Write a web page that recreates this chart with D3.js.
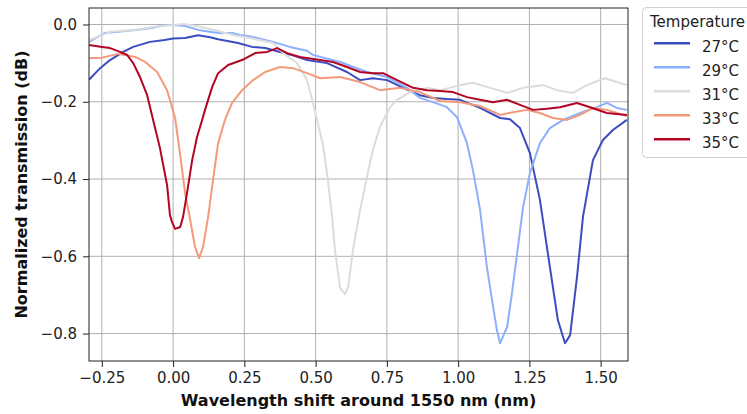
<!DOCTYPE html>
<html><head><meta charset="utf-8">
<script src="https://cdn.jsdelivr.net/npm/d3@7"></script>
<style>body{margin:0;background:#fff} svg{display:block} text{font-family:"DejaVu Sans",sans-serif}</style>
</head><body><svg id="c" width="747" height="414"></svg>
<script>
// ---- data ----
const temps = ["27°C","29°C","31°C","33°C","35°C"];
const colors = ["#3b4cc0","#8db0fe","#dddcdc","#f49a7b","#b40426"];
const xTicks = [-0.25,0,0.25,0.5,0.75,1.0,1.25,1.5];
const yTicks = [0,-0.2,-0.4,-0.6,-0.8];

const wl27 = [-0.295,-0.256,-0.221,-0.175,-0.140,-0.081,-0.030,0,0.042,0.088,0.130,0.158,0.228,0.277,0.323,0.375,0.420,0.470,0.540,0.610,0.656,0.701,0.751,0.807,0.866,0.912,0.961,1.007,1.077,1.147,1.182,1.217,1.252,1.287,1.322,1.350,1.375,1.393,1.417,1.438,1.473,1.508,1.543,1.592];
const tr27 = [-0.143,-0.113,-0.092,-0.071,-0.058,-0.045,-0.040,-0.036,-0.035,-0.028,-0.033,-0.038,-0.048,-0.058,-0.061,-0.071,-0.080,-0.092,-0.100,-0.123,-0.144,-0.139,-0.144,-0.164,-0.183,-0.190,-0.193,-0.195,-0.216,-0.242,-0.245,-0.268,-0.333,-0.454,-0.628,-0.765,-0.825,-0.804,-0.654,-0.498,-0.351,-0.299,-0.273,-0.247];

const wl29 = [-0.295,-0.239,-0.193,-0.133,-0.074,-0.028,0,0.042,0.088,0.158,0.207,0.235,0.277,0.323,0.351,0.410,0.470,0.491,0.586,0.680,0.751,0.821,0.866,0.912,0.961,0.996,1.031,1.052,1.077,1.101,1.119,1.136,1.147,1.172,1.189,1.207,1.228,1.252,1.287,1.322,1.368,1.428,1.487,1.522,1.557,1.592];
const tr29 = [-0.045,-0.022,-0.019,-0.014,-0.009,-0.001,-0.001,-0.004,-0.014,-0.022,-0.022,-0.027,-0.032,-0.040,-0.045,-0.058,-0.068,-0.079,-0.097,-0.123,-0.136,-0.164,-0.190,-0.201,-0.214,-0.240,-0.307,-0.377,-0.480,-0.628,-0.713,-0.791,-0.825,-0.783,-0.695,-0.592,-0.472,-0.384,-0.307,-0.268,-0.247,-0.229,-0.214,-0.203,-0.216,-0.221];

const wl31 = [-0.295,-0.221,-0.140,-0.063,0,0.042,0.095,0.158,0.210,0.270,0.351,0.386,0.435,0.470,0.488,0.505,0.526,0.540,0.558,0.568,0.586,0.603,0.614,0.631,0.656,0.680,0.701,0.726,0.761,0.786,0.831,0.891,0.937,1.007,1.052,1.112,1.172,1.228,1.298,1.347,1.403,1.452,1.515,1.557,1.592];
const tr31 = [-0.040,-0.019,-0.014,-0.006,-0.001,0.001,-0.006,-0.017,-0.027,-0.035,-0.048,-0.074,-0.100,-0.144,-0.195,-0.247,-0.312,-0.384,-0.498,-0.584,-0.682,-0.698,-0.680,-0.584,-0.480,-0.395,-0.325,-0.265,-0.214,-0.195,-0.175,-0.164,-0.170,-0.157,-0.151,-0.164,-0.177,-0.164,-0.157,-0.170,-0.177,-0.157,-0.139,-0.149,-0.157];

const wl33 = [-0.295,-0.256,-0.193,-0.133,-0.098,-0.056,-0.021,0.007,0.025,0.042,0.060,0.077,0.091,0.105,0.123,0.140,0.158,0.182,0.207,0.242,0.277,0.323,0.375,0.421,0.470,0.516,0.586,0.656,0.726,0.796,0.866,0.937,1.007,1.077,1.147,1.193,1.242,1.287,1.333,1.382,1.428,1.473,1.522,1.557,1.592];
const tr33 = [-0.087,-0.087,-0.076,-0.084,-0.097,-0.123,-0.170,-0.242,-0.338,-0.436,-0.506,-0.576,-0.605,-0.576,-0.498,-0.403,-0.307,-0.247,-0.203,-0.170,-0.146,-0.123,-0.110,-0.113,-0.126,-0.139,-0.136,-0.149,-0.170,-0.164,-0.175,-0.198,-0.201,-0.211,-0.234,-0.227,-0.221,-0.229,-0.242,-0.247,-0.234,-0.216,-0.221,-0.229,-0.237];

const wl35 = [-0.295,-0.249,-0.221,-0.186,-0.161,-0.140,-0.116,-0.091,-0.070,-0.046,-0.021,-0.011,-0.004,0.007,0.025,0.035,0.049,0.067,0.084,0.102,0.112,0.137,0.158,0.193,0.242,0.288,0.330,0.365,0.400,0.445,0.516,0.561,0.610,0.656,0.701,0.737,0.786,0.842,0.891,0.937,0.982,1.031,1.077,1.122,1.172,1.217,1.263,1.312,1.357,1.417,1.463,1.522,1.592];
const tr35 = [-0.053,-0.058,-0.061,-0.071,-0.079,-0.100,-0.136,-0.183,-0.247,-0.320,-0.416,-0.493,-0.511,-0.529,-0.524,-0.498,-0.436,-0.351,-0.291,-0.247,-0.221,-0.162,-0.126,-0.105,-0.092,-0.074,-0.071,-0.061,-0.074,-0.084,-0.092,-0.097,-0.110,-0.123,-0.126,-0.126,-0.144,-0.164,-0.170,-0.172,-0.175,-0.188,-0.195,-0.201,-0.195,-0.208,-0.221,-0.218,-0.214,-0.203,-0.214,-0.229,-0.234];

const series = [[wl27,tr27],[wl29,tr29],[wl31,tr31],[wl33,tr33],[wl35,tr35]]
  .map((s,i)=>({name:temps[i], color:colors[i], pts:s[0].map((w,j)=>[w,s[1][j]])}));

// ---- layout ----
const L=89, R=628, T=8, B=361;
const svg = d3.select("#c");
const x = d3.scaleLinear().domain([-0.295,1.596]).range([L,R]);
const y = d3.scaleLinear().domain([0.0427,-0.871]).range([T,B]);

svg.append("defs").append("clipPath").attr("id","clip")
  .append("rect").attr("x",L).attr("y",T).attr("width",R-L).attr("height",B-T);

// grid
const g = svg.append("g");
g.selectAll(".gx").data(xTicks).join("line")
  .attr("x1",d=>x(d)).attr("x2",d=>x(d)).attr("y1",T).attr("y2",B)
  .attr("stroke","#b0b0b0").attr("stroke-width",1);
g.selectAll(".gy").data(yTicks).join("line")
  .attr("y1",d=>y(d)).attr("y2",d=>y(d)).attr("x1",L).attr("x2",R)
  .attr("stroke","#b0b0b0").attr("stroke-width",1);

// lines
const line = d3.line().x(d=>x(d[0])).y(d=>y(d[1]));
svg.append("g").attr("clip-path","url(#clip)").selectAll("path").data(series).join("path")
  .attr("d",d=>line(d.pts)).attr("fill","none").attr("stroke",d=>d.color)
  .attr("stroke-width",2).attr("stroke-linejoin","round");

// axes
const xa = svg.append("g").attr("transform",`translate(0,${B})`)
  .call(d3.axisBottom(x).tickValues(xTicks).tickFormat(d3.format(".2f")).tickSize(6).tickPadding(5));
const ya = svg.append("g").attr("transform",`translate(${L},0)`)
  .call(d3.axisLeft(y).tickValues(yTicks).tickFormat(d3.format(".1f")).tickSize(6).tickPadding(6));
[xa,ya].forEach(a=>{
  a.select(".domain").remove();
  a.selectAll("text").attr("font-size",15).attr("fill","#222").attr("font-family","DejaVu Sans");
  a.selectAll("line").attr("stroke","#222");
});
svg.append("rect").attr("x",L).attr("y",T).attr("width",R-L).attr("height",B-T)
  .attr("fill","none").attr("stroke","#222").attr("stroke-width",1);

// axis labels
svg.append("text").attr("x",(L+R)/2).attr("y",406).attr("text-anchor","middle")
  .attr("font-size",16).attr("font-weight","bold").attr("fill","#111")
  .text("Wavelength shift around 1550 nm (nm)");
svg.append("text").attr("transform",`translate(27,${(T+B)/2}) rotate(-90)`).attr("text-anchor","middle")
  .attr("font-size",16).attr("font-weight","bold").attr("fill","#111")
  .text("Normalized transmission (dB)");

// legend
const lg = svg.append("g");
lg.append("rect").attr("x",642.5).attr("y",7.5).attr("width",130).attr("height",150).attr("rx",4)
  .attr("fill","#fff").attr("stroke","#d0d0d0");
lg.append("text").attr("x",650).attr("y",27).attr("font-size",15).attr("fill","#222").text("Temperature");
const le = lg.selectAll(".le").data(series).join("g").attr("transform",(d,i)=>`translate(0,${43.3+24*i})`);
le.append("line").attr("x1",654).attr("x2",690).attr("stroke",d=>d.color).attr("stroke-width",2.5);
le.append("text").attr("x",702).attr("y",9).attr("font-size",15).attr("fill","#222").text(d=>d.name);
</script></body></html>
